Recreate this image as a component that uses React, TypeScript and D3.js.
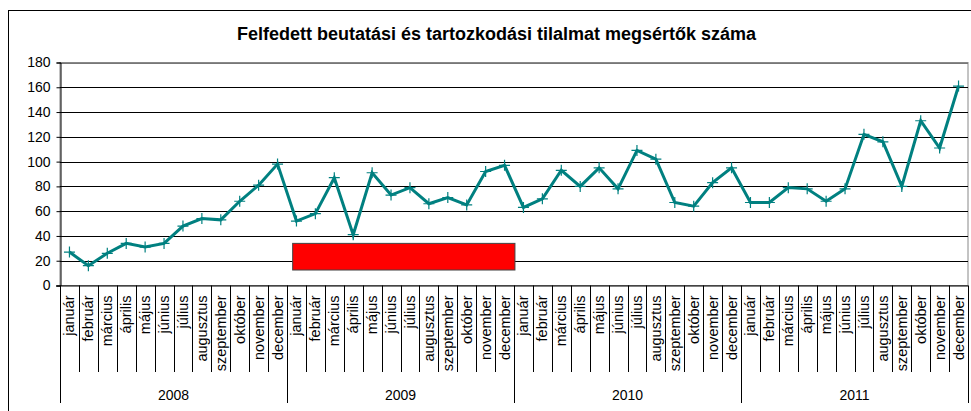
import { useRef, useEffect } from 'react';
import * as d3 from 'd3';

const TITLE = 'Felfedett beutatási és tartozkodási tilalmat megsértők száma';
const MONTHS = ['január', 'február', 'március', 'április', 'május', 'június', 'július',
  'augusztus', 'szeptember', 'október', 'november', 'december'];
const YEARS = ['2008', '2009', '2010', '2011'];
const V2008 = [27, 16, 26, 34, 31, 34, 48, 54, 53, 68, 81, 98];
const V2009 = [52, 58, 87, 41, 91, 73, 79, 66, 71, 65, 92, 97];
const V2010 = [63, 70, 93, 80, 95, 78, 109, 102, 67, 64, 83, 95];
const V2011 = [67, 67, 79, 78, 68, 78, 122, 116, 80, 133, 111, 161];
const Y_TICKS = [0, 20, 40, 60, 80, 100, 120, 140, 160, 180];
// red box drawn on the chart, in month-index / value units
const BOX = { from: 12.3, to: 24.05, low: 12.5, high: 34 };

const W = 971;
const H = 411;
const PLOT = { left: 60, right: 968, top: 62.5, bottom: 285.5 };
const FONT = 'Liberation Sans, Arial, sans-serif';
const TEAL = '#008080';

export default function App() {
  const svgRef = useRef(null);

  useEffect(() => {
    const svg = d3.select(svgRef.current);
    svg.selectAll('*').remove();

    const values = [...V2008, ...V2009, ...V2010, ...V2011];
    const idx = d3.range(values.length);

    const x = d3.scaleBand().domain(idx).range([PLOT.left, PLOT.right]);
    const xi = d3.scaleLinear().domain([0, values.length]).range([PLOT.left, PLOT.right]);
    const y = d3.scaleLinear().domain([0, 180]).range([PLOT.bottom, PLOT.top]);
    const cx = (i) => x(i) + x.bandwidth() / 2;

    svg.append('rect').attr('width', W).attr('height', H).attr('fill', '#fff');
    // outer frame
    svg.append('rect')
      .attr('x', 8.5).attr('y', 10.5)
      .attr('width', W).attr('height', H)
      .attr('fill', 'none').attr('stroke', '#000').attr('stroke-width', 1);

    svg.append('text')
      .attr('x', 496.5).attr('y', 39.5)
      .attr('text-anchor', 'middle')
      .attr('font-family', FONT).attr('font-weight', 'bold').attr('font-size', 18)
      .text(TITLE);

    // plot border (gray)
    svg.append('rect')
      .attr('x', PLOT.left).attr('y', PLOT.top)
      .attr('width', PLOT.right - PLOT.left).attr('height', PLOT.bottom - PLOT.top)
      .attr('fill', 'none').attr('stroke', '#888').attr('stroke-width', 1);

    // gridlines
    svg.append('g').selectAll('line').data(Y_TICKS.slice(1)).join('line')
      .attr('x1', PLOT.left).attr('x2', PLOT.right)
      .attr('y1', (d) => Math.round(y(d)) + 0.5).attr('y2', (d) => Math.round(y(d)) + 0.5)
      .attr('stroke', (d) => (d === 180 ? '#777' : '#000')).attr('stroke-width', 1);

    // y axis
    const ya = svg.append('g').attr('transform', `translate(${PLOT.left + 0.5},0)`)
      .call(d3.axisLeft(y).tickValues(Y_TICKS).tickSize(4).tickPadding(6));
    ya.select('.domain').attr('stroke', '#000');
    ya.selectAll('.tick line').attr('stroke', '#000');
    ya.selectAll('text').attr('font-family', FONT).attr('font-size', 14).attr('fill', '#000');

    // x axis baseline
    svg.append('line')
      .attr('x1', PLOT.left - 4).attr('x2', PLOT.right)
      .attr('y1', PLOT.bottom + 0.5).attr('y2', PLOT.bottom + 0.5)
      .attr('stroke', '#000');

    // month separators
    svg.append('g').selectAll('line').data(d3.range(values.length + 1)).join('line')
      .attr('x1', (d) => Math.round(xi(d)) + 0.5).attr('x2', (d) => Math.round(xi(d)) + 0.5)
      .attr('y1', PLOT.bottom)
      .attr('y2', (d) => (d % 12 === 0 ? 403 : 372))
      .attr('stroke', '#000').attr('stroke-width', 1);

    // month labels
    svg.append('g').selectAll('text').data(idx).join('text')
      .attr('transform', (d) => `translate(${cx(d) + 5},${PLOT.bottom + 10}) rotate(-90)`)
      .attr('text-anchor', 'end')
      .attr('font-family', FONT).attr('font-size', 14.5)
      .text((d) => MONTHS[d % 12]);

    // year labels
    svg.append('g').selectAll('text').data(YEARS).join('text')
      .attr('x', (_, i) => xi(i * 12 + 6)).attr('y', 399.5)
      .attr('text-anchor', 'middle')
      .attr('font-family', FONT).attr('font-size', 14)
      .text((d) => d);

    // red box
    svg.append('rect')
      .attr('x', xi(BOX.from)).attr('y', y(BOX.high))
      .attr('width', xi(BOX.to) - xi(BOX.from)).attr('height', y(BOX.low) - y(BOX.high))
      .attr('fill', '#ff0000').attr('stroke', '#444').attr('stroke-width', 1);

    // series line
    const line = d3.line().x((d, i) => cx(i)).y((d) => y(d));
    svg.append('path').datum(values)
      .attr('d', line)
      .attr('fill', 'none').attr('stroke', TEAL).attr('stroke-width', 3)
      .attr('stroke-linejoin', 'miter');

    // plus markers
    svg.append('g').selectAll('path').data(values).join('path')
      .attr('d', (d, i) => {
        const px = cx(i), py = y(d), s = 5.5;
        return `M${px - s},${py}H${px + s}M${px},${py - s}V${py + s}`;
      })
      .attr('stroke', TEAL).attr('stroke-width', 1.2).attr('fill', 'none');
  }, []);

  return (
    <svg
      ref={svgRef}
      width={W}
      height={H}
      style={{ position: 'absolute', left: 0, top: 0, display: 'block' }}
    />
  );
}
